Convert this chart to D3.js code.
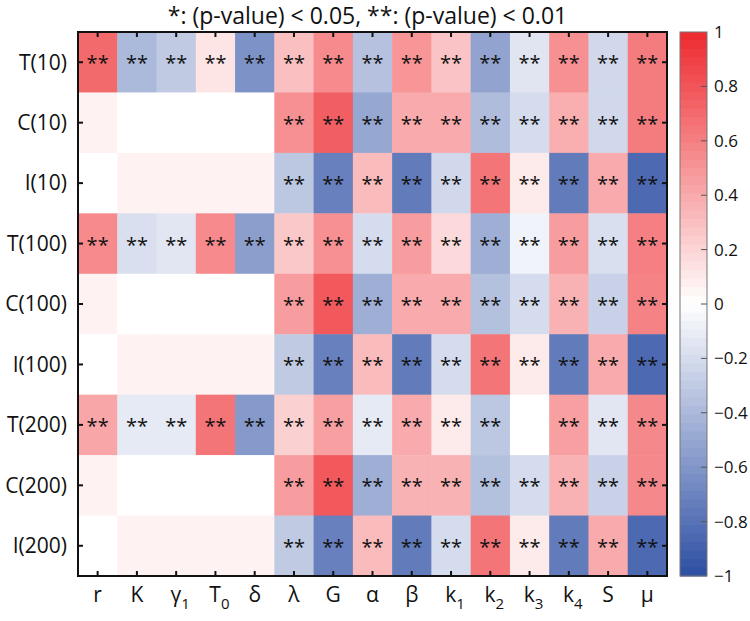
<!DOCTYPE html>
<html>
<head>
<meta charset="utf-8">
<script src="https://cdn.jsdelivr.net/npm/d3@7"></script>
<style>
body{margin:0;background:#fff;}
text{font-family:"Open Sans","Lato",sans-serif;fill:#111;}
</style>
</head>
<body>
<svg id="chart" width="750" height="621"></svg>
<script>
// ---- data ----
const rows = ["T(10)","C(10)","I(10)","T(100)","C(100)","I(100)","T(200)","C(200)","I(200)"];
const cols = [
  {base:"r",sub:""},{base:"K",sub:""},{base:"γ",sub:"1"},{base:"T",sub:"0"},{base:"δ",sub:""},
  {base:"λ",sub:""},{base:"G",sub:""},{base:"α",sub:""},{base:"β",sub:""},{base:"k",sub:"1"},
  {base:"k",sub:"2"},{base:"k",sub:"3"},{base:"k",sub:"4"},{base:"S",sub:""},{base:"μ",sub:""}
];
// correlation values, one array per row (columns in order above)
const valT10  = [0.70,-0.40,-0.30,0.12,-0.62,0.30,0.55,-0.35,0.50,0.28,-0.52,-0.15,0.52,-0.22,0.62];
const valC10  = [0.06,0,0,0,0,0.52,0.75,-0.50,0.40,0.40,-0.38,-0.20,0.38,-0.22,0.62];
const valI10  = [0,0.06,0.06,0.06,0.06,-0.32,-0.72,0.32,-0.75,-0.22,0.65,0.10,-0.75,0.40,-0.85];
const valT100 = [0.55,-0.18,-0.14,0.55,-0.55,0.26,0.52,-0.20,0.46,0.18,-0.46,-0.07,0.46,-0.18,0.60];
const valC100 = [0.06,0,0,0,0,0.46,0.78,-0.46,0.40,0.40,-0.36,-0.20,0.36,-0.26,0.58];
const valI100 = [0,0.06,0.06,0.06,0.06,-0.30,-0.72,0.32,-0.75,-0.20,0.65,0.10,-0.75,0.40,-0.85];
const valT200 = [0.42,-0.12,-0.12,0.65,-0.58,0.22,0.45,-0.12,0.40,0.10,-0.32,0,0.45,-0.14,0.56];
const valC200 = [0.06,0,0,0,0,0.46,0.78,-0.46,0.36,0.36,-0.36,-0.20,0.36,-0.26,0.56];
const valI200 = [0,0.06,0.06,0.06,0.06,-0.30,-0.72,0.32,-0.75,-0.20,0.65,0.10,-0.75,0.40,-0.85];
// significance marks
const sigT = ["**","**","**","**","**","**","**","**","**","**","**","**","**","**","**"];
const sigT200 = ["**","**","**","**","**","**","**","**","**","**","**","","**","**","**"];
const sigCI = ["","","","","","**","**","**","**","**","**","**","**","**","**"];
const values = [valT10,valC10,valI10,valT100,valC100,valI100,valT200,valC200,valI200];
const sigs = [sigT,sigCI,sigCI,sigT,sigCI,sigCI,sigT200,sigCI,sigCI];
const title = "*: (p-value) < 0.05, **: (p-value) < 0.01";
const cbTicks = [1,0.8,0.6,0.4,0.2,0,-0.2,-0.4,-0.6,-0.8,-1];

// ---- layout ----
const svg = d3.select("#chart");
const X0=78, X1=667, Y0=32, Y1=576;
const x = d3.scaleBand().domain(d3.range(cols.length)).range([X0,X1]);
const y = d3.scaleBand().domain(rows).range([Y0,Y1]);
const color = d3.scaleLinear().domain([-1,0,1]).range(["#2d4fa3","#ffffff","#ee2a2f"]).clamp(true);

const cells = [];
values.forEach((arr,i)=>arr.forEach((v,j)=>cells.push({r:rows[i],c:j,v:v,s:sigs[i][j]})));

svg.append("g").selectAll("rect").data(cells).join("rect")
  .attr("x",d=>x(d.c)).attr("y",d=>y(d.r))
  .attr("width",x.bandwidth()+0.5).attr("height",y.bandwidth()+0.5)
  .attr("fill",d=>color(d.v));

svg.append("g").selectAll("text").data(cells.filter(d=>d.s)).join("text")
  .attr("x",d=>x(d.c)+x.bandwidth()/2)
  .attr("y",d=>y(d.r)+y.bandwidth()/2+8)
  .attr("text-anchor","middle").attr("font-size",20).text(d=>d.s);

// frame + inward ticks
const tl = 5;
const axG = svg.append("g").attr("stroke","#111").attr("stroke-width",2);
axG.append("rect").attr("x",X0).attr("y",Y0).attr("width",X1-X0).attr("height",Y1-Y0).attr("fill","none");
d3.range(cols.length).forEach(j=>{
  const cx = x(j)+x.bandwidth()/2;
  axG.append("line").attr("x1",cx).attr("x2",cx).attr("y1",Y0).attr("y2",Y0+tl);
  axG.append("line").attr("x1",cx).attr("x2",cx).attr("y1",Y1).attr("y2",Y1-tl);
});
rows.forEach(r=>{
  const cy = y(r)+y.bandwidth()/2;
  axG.append("line").attr("x1",X0).attr("x2",X0+tl).attr("y1",cy).attr("y2",cy);
  axG.append("line").attr("x1",X1).attr("x2",X1-tl).attr("y1",cy).attr("y2",cy);
});

// y labels
svg.append("g").selectAll("text").data(rows).join("text")
  .attr("x",X0-11).attr("y",d=>y(d)+y.bandwidth()/2)
  .attr("dy","0.35em").attr("text-anchor","end").attr("font-size",21).text(d=>d);

// x labels
const xl = svg.append("g").selectAll("text").data(cols).join("text")
  .attr("x",(d,j)=>x(j)+x.bandwidth()/2 + (d.sub?4:0)).attr("y",602)
  .attr("text-anchor","middle").attr("font-size",21);
xl.append("tspan").text(d=>d.base);
xl.filter(d=>d.sub).append("tspan").attr("font-size",15).attr("dy",7).text(d=>d.sub);

// title
svg.append("text").attr("x",(X0+X1)/2-5).attr("y",24).attr("text-anchor","middle")
  .attr("font-size",23).text(title);

// colorbar
const CX=680, CW=27, CY0=32, CY1=576;
const cy = d3.scaleLinear().domain([1,-1]).range([CY0,CY1]);
const nSteps = 64;
const steps = d3.range(nSteps).map(i=>({a:1-2*i/nSteps,b:1-2*(i+1)/nSteps}));
svg.append("g").selectAll("rect").data(steps).join("rect")
  .attr("x",CX).attr("width",CW).attr("y",d=>cy(d.a)).attr("height",d=>cy(d.b)-cy(d.a)+0.5)
  .attr("fill",d=>color((d.a+d.b)/2));
svg.append("rect").attr("x",CX).attr("y",CY0).attr("width",CW).attr("height",CY1-CY0)
  .attr("fill","none").attr("stroke","#777").attr("stroke-width",1);
const cbt = svg.append("g");
cbt.selectAll("line").data(cbTicks.slice(1,-1)).join("line")
  .attr("x1",CX+CW-6).attr("x2",CX+CW).attr("y1",d=>cy(d)).attr("y2",d=>cy(d))
  .attr("stroke","#555").attr("stroke-width",1);
cbt.selectAll("text").data(cbTicks).join("text")
  .attr("x",CX+CW+7).attr("y",d=>cy(d)).attr("dy","0.35em").attr("font-size",17)
  .text(d=>d===0?"0":d3.format("")(d));
</script>
</body>
</html>
